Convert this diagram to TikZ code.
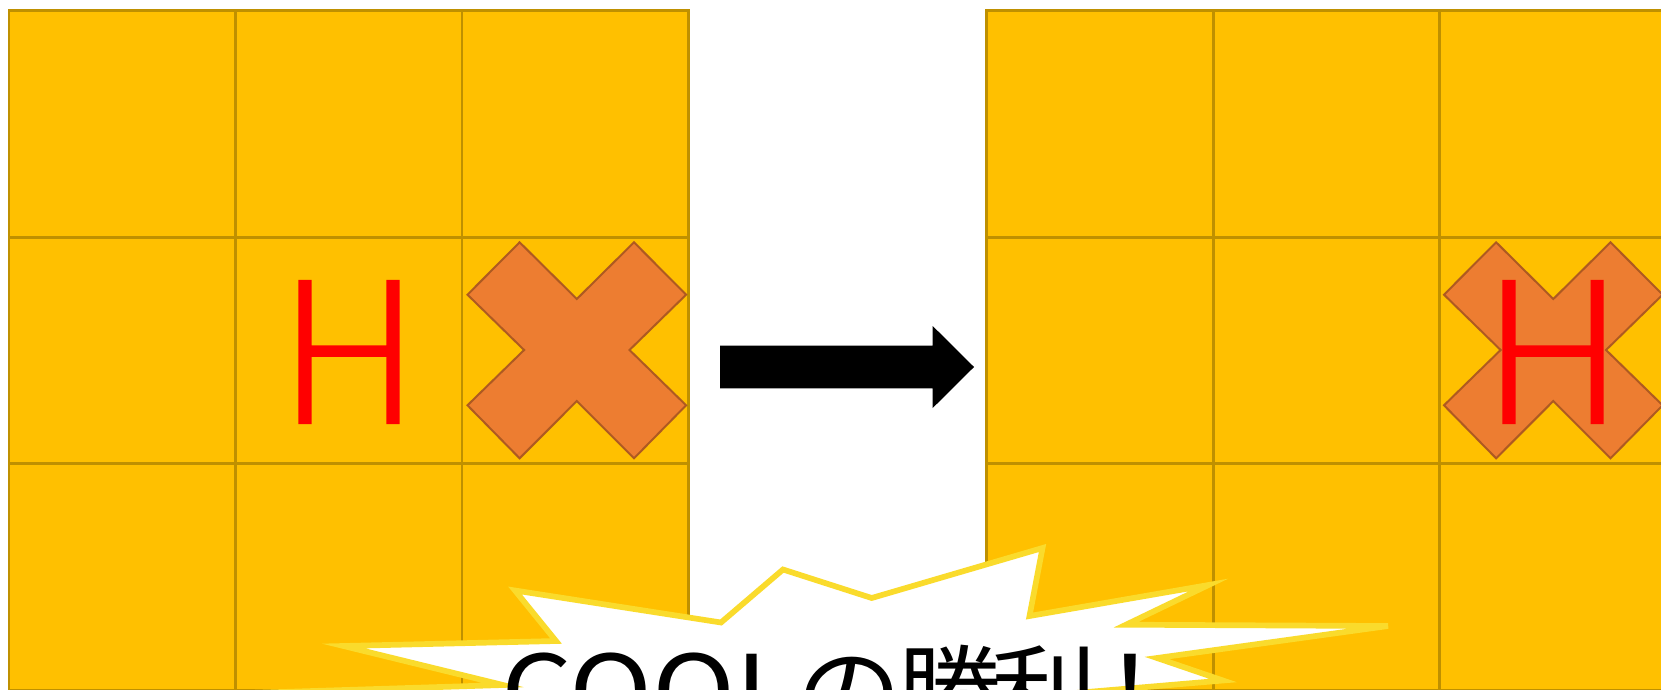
\documentclass[tikz,border=0pt]{standalone}
\usepackage{fontspec}
\newfontfamily\jpfont{Noto Sans CJK JP}
\newfontfamily\hfont{Lato Light}[FakeBold=2, FakeStretch=0.9]
\definecolor{cellfill}{HTML}{FFC000}
\definecolor{cellline}{HTML}{BF9000}
\definecolor{crossfill}{HTML}{ED7D31}
\definecolor{crossline}{HTML}{AE5A21}
\definecolor{burstline}{RGB}{250,219,44}
\tikzset{
  cell/.style={fill=cellfill, draw=cellline, line width=2.6pt},
  crossmark/.style={fill=crossfill, draw=crossline, line width=2pt, line join=miter},
  hletter/.style={text=red, inner sep=0pt, font=\hfont\fontsize{198}{210}\selectfont},
  blockarrow/.style={fill=black},
  burst/.style={fill=white, draw=burstline, line width=5.7pt, line join=miter},
  wintext/.style={anchor=base west, inner sep=0pt, text=black, font=\jpfont\fontsize{100}{120}\selectfont}
}
\begin{document}
\begin{tikzpicture}[x=1pt,y=-1pt]
\useasboundingbox (0,0) rectangle (1661,690);
\clip (0,0) rectangle (1661,690);
\fill[white] (0,0) rectangle (1661,690);
% two 3x3 boards
\foreach \gx in {8.9,986.7} {
  \foreach \i in {0,1,2} {
    \foreach \j in {0,1,2} {
      \draw[cell] (\gx+\i*226.5, 10.7+\j*226.5) rectangle ++(226.5,226.5);
    }
  }
}
% crosses
\foreach \cx in {576.8,1553.3} {
  \draw[crossmark, shift={(\cx,350)}] (-109.3,-55.3) -- (-57.2,-107.7) -- (0,-51) -- (57.2,-107.7) -- (109.3,-55.3) -- (52.7,0) -- (109.3,55.3) -- (57.2,108.3) -- (0,51) -- (-57.2,108.3) -- (-109.3,55.3) -- (-52.7,0) -- cycle;
}
% H letters
\node[hletter] (hL) at (349,352) {H};
\node[hletter] (hR) at (1553,352) {H};
% block arrow
\fill[blockarrow] (720,345.5) -- (932.7,345.5) -- (932.7,326) -- (974,367) -- (932.7,408) -- (932.7,388.3) -- (720,388.3) -- cycle;
% starburst
\draw[burst] (250,693) -- (503,685) -- (343.5,646) -- (556,641) -- (515,590.5) -- (721,622.5) -- (783,569.5) -- (871.7,598) -- (1042.5,548) -- (1029.5,616) -- (1208.5,585) -- (1126,624.7) -- (1388,626) -- (1157,658) -- (1223,680.5) -- (1040,696) -- (1100,760) -- (700,780) -- (300,760) -- cycle;
\node[wintext] (win) at (501,727) {{\addfontfeatures{FakeStretch=1.12}COOL}{\fontsize{98}{120}\selectfont\addfontfeatures{FakeStretch=1.08}の\kern-5pt 勝\kern-11pt 利\kern-20pt ！}};
\end{tikzpicture}
\end{document}
